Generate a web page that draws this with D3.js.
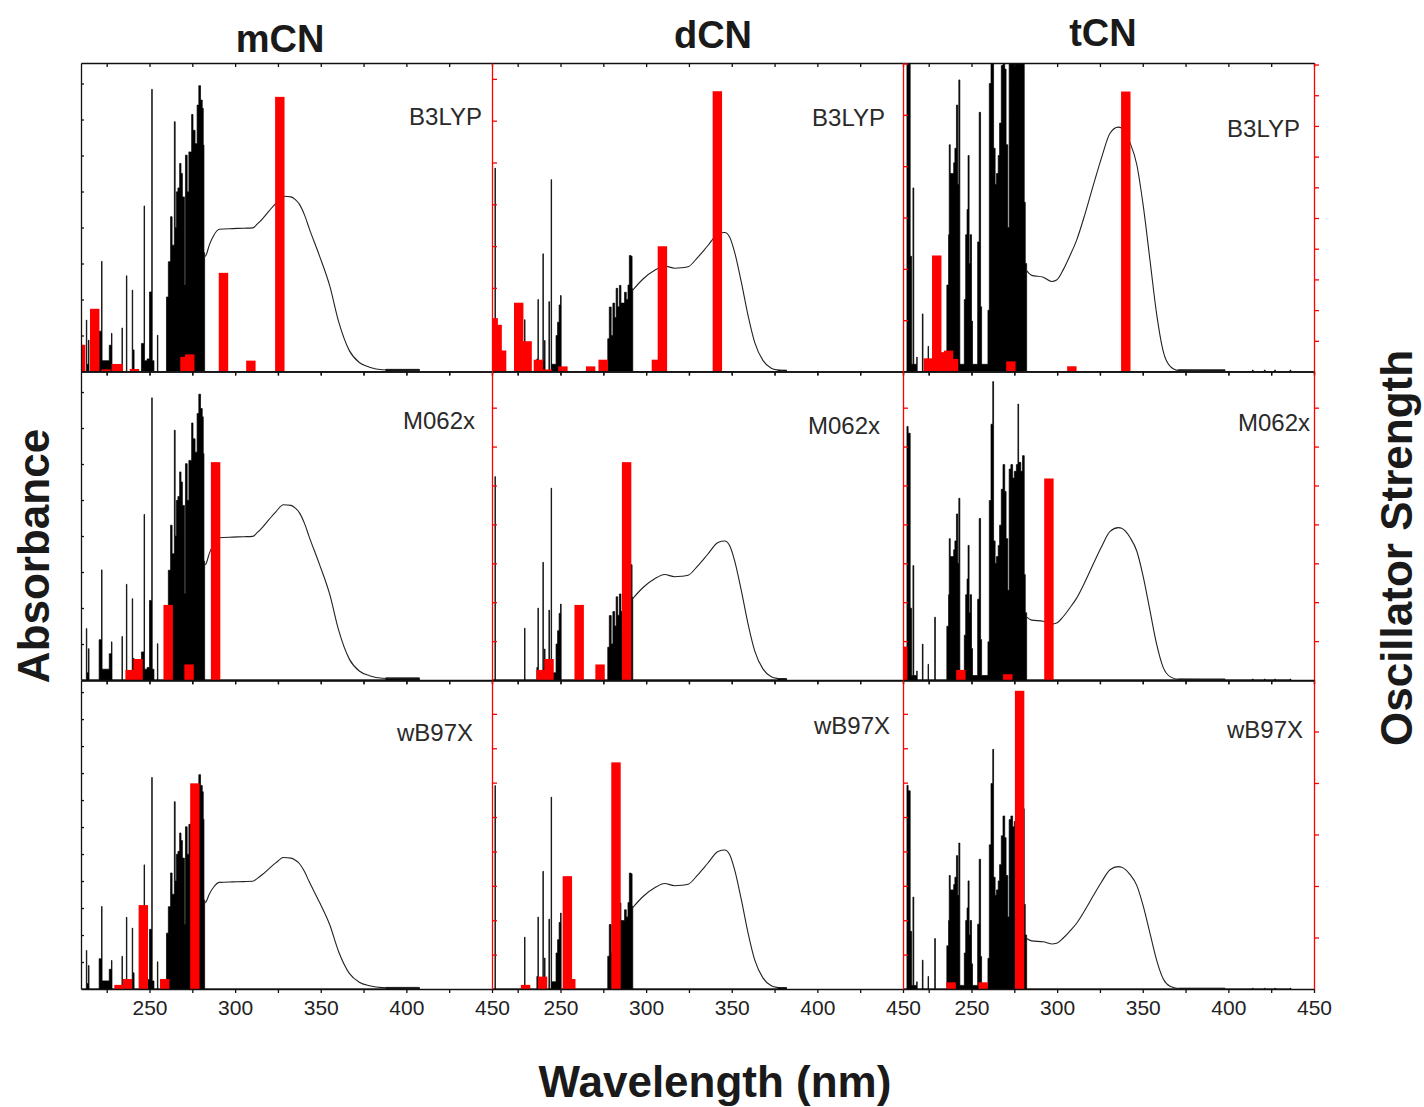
<!DOCTYPE html>
<html>
<head>
<meta charset="utf-8">
<script src="https://cdnjs.cloudflare.com/ajax/libs/d3/7.8.5/d3.min.js"></script>
<style>
body { margin: 0; background: #fff; }
svg { display: block; font-family: "Liberation Sans", Arial, sans-serif; }
</style>
</head>
<body>
<svg id="chart" width="1424" height="1107"></svg>
<script>
//columns and rows of the grid
var molecules = ['mCN', 'dCN', 'tCN'];
var methods = ['B3LYP', 'M062x', 'wB97X'];

//wavelength ticks (labels only every 50 nm)
var xTicks = [225, 250, 275, 300, 325, 350, 375, 400, 425, 450];

//experimental spectrum, smooth part [nm, absorbance]
var mcnCurve = [[282.0, 0.319], [283.0, 0.323], [284.9, 0.351], [287.5, 0.378], [290.8, 0.395], [298.6, 0.397],
  [305, 0.398], [310.2, 0.399], [313, 0.41], [316.1, 0.425], [320, 0.447], [323.9, 0.468], [328.2, 0.487],
  [332.6, 0.485], [335, 0.478], [337.5, 0.465], [340.5, 0.435], [343.3, 0.397], [349.2, 0.322], [355.3, 0.237],
  [360.4, 0.139], [366.7, 0.058], [372.5, 0.025], [378.4, 0.012], [386, 0.005], [407.6, 0.003]];
var dcnCurve = [[292.0, 0.225], [298.2, 0.257], [305.0, 0.281], [310.8, 0.293], [316.7, 0.287], [320.5, 0.288],
  [324.5, 0.291], [330.3, 0.318], [336.1, 0.350], [342.0, 0.382], [345.9, 0.386], [348.8, 0.373], [351.7, 0.331],
  [355.6, 0.248], [359.5, 0.156], [363.4, 0.081], [368.2, 0.031], [373.1, 0.009], [377.0, 0.004], [382, 0.002]];
var tcnCurve = [[282.2, 0.28], [285.1, 0.267], [291.9, 0.262], [296.8, 0.25], [299.7, 0.254], [303.6, 0.283],
  [307.5, 0.322], [311.4, 0.365], [316.3, 0.438], [321.1, 0.517], [326.0, 0.595], [330.9, 0.662], [335.7, 0.679],
  [337.7, 0.676], [342.6, 0.635], [346.5, 0.575], [350.3, 0.46], [354.2, 0.31], [358.1, 0.16], [362.0, 0.055],
  [365.9, 0.015], [370.8, 0.003], [398, 0.002]];

//experimental spectrum, noisy part below ~290 nm [nm, absorbance], drawn as steps
var mcnNoise = [[210, 0], [213.1, 0.143], [213.4, 0.02], [214.3, 0.087], [214.7, 0],
  [220.6, 0.112], [222.0, 0.306], [222.3, 0.03], [226.5, 0.073], [227.8, 0.106], [228.1, 0],
  [233.9, 0.121], [234.2, 0], [236.5, 0.266], [236.8, 0], [239.9, 0.226], [240.2, 0.06], [241.0, 0],
  [245.3, 0.078], [246.8, 0.46], [247.1, 0.03], [248.6, 0.035], [250.0, 0.221], [251.3, 0.784], [251.6, 0.03],
  [252.6, 0], [254.6, 0.101], [254.9, 0],
  [259.9, 0.207], [261.0, 0.305], [262.3, 0.43], [263.2, 0.351], [264.5, 0.694], [265.0, 0.40],
  [265.7, 0.499], [266.6, 0.51], [267.6, 0.578], [268.4, 0.55], [269.2, 0.485], [270.4, 0.24],
  [271.0, 0.601], [272.0, 0.499], [273.0, 0.61], [274.0, 0.61], [274.6, 0.714], [275.4, 0.67],
  [276.6, 0.633], [277.8, 0.74], [278.8, 0.794], [279.8, 0.754], [280.8, 0.731], [281.4, 0.629],
  [281.8, 0.33], [282.2, 0], [388, 0.006], [407.6, 0]];
var dcnNoise = [[210, 0], [211.7, 0.565], [212.0, 0], [229.0, 0.144], [229.3, 0], [236.2, 0.035],
  [236.8, 0.2], [237.1, 0], [239.7, 0.327], [240.0, 0.03], [240.6, 0.086], [241.0, 0], [243.2, 0.194],
  [243.6, 0], [244.5, 0.533], [244.8, 0.02], [247.4, 0.10], [248.3, 0.137], [249.2, 0.185], [250.0, 0.211],
  [250.4, 0], [277.6, 0.091], [278.5, 0.179], [279.6, 0.1], [280.6, 0.19], [281.6, 0.15], [282.5, 0.231],
  [283.4, 0.18], [284.4, 0.239], [285.3, 0.19], [286.4, 0.19], [287.4, 0.22], [288.4, 0.2], [289.4, 0.24],
  [290.2, 0.322], [291.2, 0.32], [291.8, 0.23], [292.2, 0], [377, 0.004], [382, 0]];
var tcnNoise = [[210, 0], [212.3, 1.13], [213.0, 1.10], [214.2, 0.32], [215.0, 0.02], [215.8, 0.51],
  [216.3, 0.02], [218.0, 0.04], [218.3, 0], [221.3, 0.16], [221.7, 0], [224.6, 0.07], [224.9, 0],
  [228.5, 0.28], [228.9, 0], [235.6, 0.24], [236.6, 0.38], [237.0, 0.63], [237.6, 0.55], [238.6, 0.55],
  [239.6, 0.58], [240.3, 0.62], [241.2, 0.74], [242.0, 0.52], [242.6, 0.81], [243.2, 0.02], [245.8, 0.20],
  [246.6, 0.38], [247.4, 0.45], [248.0, 0.60], [248.6, 0.30], [249.2, 0.38], [250.0, 0.14], [250.6, 0.02],
  [253.6, 0.36], [254.5, 0.72], [255.3, 0.18], [255.9, 0.02], [259.6, 0.17], [260.4, 0.80], [261.4, 1.14],
  [262.4, 1.33], [262.9, 0.62], [263.8, 0.52], [264.6, 0.55], [265.6, 0.60], [266.4, 0.69], [267.4, 0.85],
  [268.4, 0.96], [269.4, 0.84], [270.2, 0.63], [271.2, 0.40], [272.0, 0.94], [273.0, 0.96], [274.0, 0.90],
  [275.0, 0.93], [276.2, 0.96], [277.1, 1.23], [277.5, 0.97], [278.8, 0.93], [279.8, 1.0], [280.8, 0.47],
  [281.4, 0.30], [282.2, 0], [370.8, 0.005], [398, 0], [414, 0.004], [414.5, 0], [421, 0.004], [421.5, 0],
  [427, 0.004], [427.5, 0], [436, 0.004], [436.5, 0]];

//absorbance axis top, per method row
var mcnAbsMax = [0.857, 0.857, 1.143];
var dcnAbsMax = [0.857, 0.857, 0.857];
var tcnAbsMax = [0.857, 1.375, 1.712];

//computed transitions [nm, oscillator strength]
var mcnB3lyp = [[209.8, 0.064], [218.0, 0.150], [224.6, 0.005], [230.6, 0.018], [231.8, 0.018], [241.2, 0.006],
  [270.7, 0.035], [273.5, 0.041], [293.2, 0.236], [309.2, 0.026], [326.1, 0.657]];
var mcnM062x = [[238.7, 0.026], [243.3, 0.054], [260.9, 0.193], [273.1, 0.040], [288.6, 0.560]];
var mcnWb97x = [[232.2, 0.012], [237.1, 0.029], [246.4, 0.244], [258.9, 0.029], [276.5, 0.598]];
var dcnB3lyp = [[210.7, 0.104], [213.0, 0.091], [215.6, 0.041], [225.6, 0.134], [230.5, 0.059], [237.1, 0.023],
  [242.2, 0.004], [251.4, 0.010], [267.6, 0.010], [274.9, 0.023], [306.0, 0.023], [309.5, 0.244], [341.6, 0.546]];
var dcnM062x = [[238.7, 0.026], [243.3, 0.054], [260.9, 0.193], [273.1, 0.040], [288.6, 0.560]];
var dcnWb97x = [[229.6, 0.012], [239.5, 0.036], [254.0, 0.328], [256.0, 0.029], [282.4, 0.659]];
var tcnB3lyp = [[224.8, 0.043], [229.7, 0.378], [234.2, 0.063], [236.6, 0.068], [239.5, 0.041], [273.0, 0.033],
  [308.6, 0.017], [340.1, 0.912]];
var tcnM062x = [[209.8, 0.086], [243.8, 0.026], [271.2, 0.015], [295.2, 0.518]];
var tcnWb97x = [[238.1, 0.013], [256.8, 0.013], [278.1, 0.579]];

//oscillator strength axis top, per method row
var mcnOscMax = [0.738, 0.793, 0.897];
var dcnOscMax = [0.601, 0.793, 0.897];
var tcnOscMax = [1.005, 0.793, 0.599];

//layout
var colX = [81, 492, 903], panelW = 411;
var rowY = [63, 371.5, 680.5], panelH = 308.5;
var barHalf = 2.75;
//method label offset from top right corner of each panel [dx, baseline]
var labelNudge = [[[-10, 62], [-17, 57], [-19, 60]],
                  [[-18, 63], [-23, 62], [-13, 53]],
                  [[-14, 74], [-4, 59], [-11, 57]]];

var curves = [mcnCurve, dcnCurve, tcnCurve];
var noises = [mcnNoise, dcnNoise, tcnNoise];
var absMax = [mcnAbsMax, dcnAbsMax, tcnAbsMax];
var oscMax = [mcnOscMax, dcnOscMax, tcnOscMax];
var transitions = [[mcnB3lyp, mcnM062x, mcnWb97x],
                   [dcnB3lyp, dcnM062x, dcnWb97x],
                   [tcnB3lyp, tcnM062x, tcnWb97x]];

var svg = d3.select('#chart');
var defs = svg.append('defs');
defs.append('clipPath').attr('id', 'panel_clip')
  .append('rect').attr('width', panelW).attr('height', panelH);

var x = d3.scaleLinear().domain([210, 450]).range([0, panelW]);

function tenths(max) {
  return d3.range(1, Math.floor(max * 10 + 1e-6) + 1).map(function(i) { return i / 10; });
}

var panels = [];
molecules.forEach(function(m, c) {
  methods.forEach(function(meth, r) {
    panels.push({col: c, row: r, method: meth,
      yAbs: d3.scaleLinear().domain([0, absMax[c][r]]).range([panelH, 0]),
      yOsc: d3.scaleLinear().domain([0, oscMax[c][r]]).range([panelH, 0])});
  });
});

//plot contents
panels.forEach(function(p) {
  var g = svg.append('g')
    .attr('transform', 'translate(' + colX[p.col] + ',' + rowY[p.row] + ')');
  var plot = g.append('g').attr('clip-path', 'url(#panel_clip)');

  var noiseArea = d3.area()
    .x(function(d) { return x(d[0]); })
    .y0(panelH)
    .y1(function(d) { return p.yAbs(d[1]); })
    .curve(d3.curveStepAfter);
  plot.append('path')
    .datum(noises[p.col])
    .attr('d', noiseArea)
    .attr('fill', '#000')
    .attr('stroke', '#000')
    .attr('stroke-width', 0.7);

  var curveLine = d3.line()
    .x(function(d) { return x(d[0]); })
    .y(function(d) { return p.yAbs(d[1]); })
    .curve(d3.curveMonotoneX);
  plot.append('path')
    .datum(curves[p.col])
    .attr('d', curveLine)
    .attr('fill', 'none')
    .attr('stroke', '#222')
    .attr('stroke-width', 1.1);

  plot.selectAll('rect.bar')
    .data(transitions[p.col][p.row])
    .enter().append('rect')
    .attr('class', 'bar')
    .attr('x', function(d) { return x(d[0] - barHalf); })
    .attr('width', function(d) { return x(d[0] + barHalf) - x(d[0] - barHalf); })
    .attr('y', function(d) { return p.yOsc(d[1]); })
    .attr('height', function(d) { return panelH - p.yOsc(d[1]); })
    .attr('fill', '#ff0000');

  var nudge = labelNudge[p.col][p.row];
  g.append('text')
    .attr('x', panelW + nudge[0])
    .attr('y', nudge[1])
    .attr('text-anchor', 'end')
    .attr('font-size', 24)
    .attr('fill', '#2a2a2a')
    .text(p.method);
});

//black axes
panels.forEach(function(p) {
  var g = svg.append('g')
    .attr('transform', 'translate(' + colX[p.col] + ',' + rowY[p.row] + ')');

  g.append('g')
    .call(d3.axisBottom(x).tickValues(xTicks).tickSize(4).tickSizeOuter(0).tickFormat(''));

  var bottom = g.append('g')
    .attr('transform', 'translate(0,' + panelH + ')')
    .call(d3.axisBottom(x).tickValues(xTicks).tickSize(4).tickSizeOuter(0).tickPadding(7)
      .tickFormat(function(d) { return (p.row === 2 && d % 50 === 0) ? d : ''; }));
  bottom.selectAll('text').attr('font-size', 21).attr('fill', '#222')
    .attr('font-family', '"Liberation Sans", Arial, sans-serif');

  //only the first column shows its absorbance axis, the others sit under the red one
  if (p.col === 0) {
    g.append('g')
      .call(d3.axisRight(p.yAbs).tickValues(tenths(absMax[p.col][p.row]))
        .tickSize(3).tickSizeOuter(0).tickFormat(''));
  }

  g.selectAll('.domain, .tick line').attr('stroke', '#111').attr('stroke-width', 1.3);
});

//red oscillator strength axes on the right of each panel
panels.forEach(function(p) {
  var g = svg.append('g')
    .attr('transform', 'translate(' + (colX[p.col] + panelW) + ',' + rowY[p.row] + ')')
    .call(d3.axisRight(p.yOsc).tickValues(tenths(oscMax[p.col][p.row]))
      .tickSize(5).tickSizeOuter(0).tickFormat(''));
  g.selectAll('.domain, .tick line').attr('stroke', '#ff0000').attr('stroke-width', 1.3);
});

//titles
var titleX = [280, 713, 1103], titleY = [52, 48, 46];
svg.selectAll('text.title')
  .data(molecules)
  .enter().append('text')
  .attr('class', 'title')
  .attr('x', function(d, i) { return titleX[i]; })
  .attr('y', function(d, i) { return titleY[i]; })
  .attr('text-anchor', 'middle')
  .attr('font-size', 38)
  .attr('font-weight', 'bold')
  .attr('fill', '#1a1a1a')
  .text(function(d) { return d; });

svg.append('text')
  .attr('transform', 'translate(49,556) rotate(-90)')
  .attr('text-anchor', 'middle')
  .attr('font-size', 44)
  .attr('font-weight', 'bold')
  .attr('fill', '#1a1a1a')
  .text('Absorbance');

svg.append('text')
  .attr('transform', 'translate(1412,548) rotate(-90)')
  .attr('text-anchor', 'middle')
  .attr('font-size', 44)
  .attr('font-weight', 'bold')
  .attr('fill', '#1a1a1a')
  .text('Oscillator Strength');

svg.append('text')
  .attr('x', 715)
  .attr('y', 1097)
  .attr('text-anchor', 'middle')
  .attr('font-size', 44)
  .attr('font-weight', 'bold')
  .attr('fill', '#1a1a1a')
  .text('Wavelength (nm)');
</script>
</body>
</html>
